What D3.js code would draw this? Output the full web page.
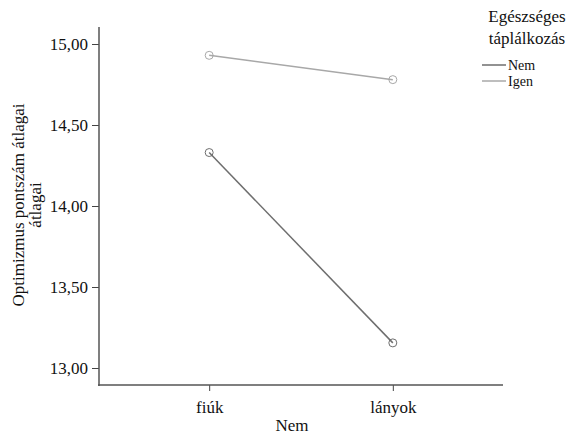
<!DOCTYPE html>
<html><head><meta charset="utf-8">
<script src="https://cdn.jsdelivr.net/npm/d3@7"></script>
</head><body style="margin:0;background:#fff">
<svg id="c" width="578" height="439" font-family="Liberation Serif"></svg>
<script>
const categories = ["fiúk", "lányok"];
const seriesNames = ["Nem", "Igen"];
const nemValues = [14.33, 13.155];
const igenValues = [14.93, 14.78];
const yTicks = [13.0, 13.5, 14.0, 14.5, 15.0];
const colors = ["#6e6e6e", "#a8a8a8"];
const FONT = "Liberation Serif";

const svg = d3.select("#c");
const x = d3.scalePoint().domain(categories).range([99, 503]).padding(0.6);
const y = d3.scaleLinear().domain([13, 15]).range([368, 44]);
const fmt = d => d3.format(".2f")(d).replace(".", ",");

function txt(sel, size) {
  return sel.attr("font-family", FONT).attr("font-size", size).attr("fill", "#111");
}

// axes
const yAxis = svg.append("g").attr("transform", "translate(99,0)")
  .call(d3.axisLeft(y).tickValues(yTicks).tickFormat(fmt).tickSize(7).tickPadding(4));
yAxis.select(".domain").remove();
svg.append("line").attr("x1", 99).attr("x2", 99).attr("y1", 27).attr("y2", 386)
  .attr("stroke", "#555").attr("stroke-width", 1.5);
const xAxis = svg.append("g").attr("transform", "translate(0,385)")
  .call(d3.axisBottom(x).tickSize(6).tickPadding(10));
xAxis.select(".domain").remove();
svg.append("line").attr("x1", 98).attr("x2", 503).attr("y1", 385).attr("y2", 385)
  .attr("stroke", "#555").attr("stroke-width", 1.5);
svg.selectAll("g").attr("font-family", FONT).attr("font-size", 17);
svg.selectAll(".tick line").attr("stroke", "#444");
txt(svg.selectAll(".tick text"), 17);

// axis titles
txt(svg.append("text").attr("x", 292).attr("y", 431).attr("text-anchor", "middle"), 17).text("Nem");
const yt = txt(svg.append("text").attr("transform", "translate(24,205) rotate(-90)")
  .attr("text-anchor", "middle"), 17);
yt.append("tspan").attr("x", 0).attr("dy", 0).text("Optimizmus pontszám átlagai");
yt.append("tspan").attr("x", 0).attr("dy", 17).text("átlagai");

// series
const data = [nemValues, igenValues];
const line = d3.line().x((d, i) => x(categories[i])).y(d => y(d));
data.forEach((vals, s) => {
  svg.append("path").datum(vals).attr("d", line).attr("fill", "none")
    .attr("stroke", colors[s]).attr("stroke-width", 1.5);
  svg.selectAll(null).data(vals).enter().append("circle")
    .attr("cx", (d, i) => x(categories[i])).attr("cy", d => y(d)).attr("r", 4)
    .attr("fill", "none").attr("stroke", colors[s]).attr("stroke-width", 1);
});

// legend
txt(svg.append("text").attr("x", 527).attr("y", 22).attr("text-anchor", "middle"), 17).text("Egészséges");
txt(svg.append("text").attr("x", 527).attr("y", 44).attr("text-anchor", "middle"), 17).text("táplálkozás");
seriesNames.forEach((n, i) => {
  const yy = 65 + i * 16;
  svg.append("line").attr("x1", 482).attr("x2", 506).attr("y1", yy).attr("y2", yy)
    .attr("stroke", colors[i]).attr("stroke-width", 1.5);
  txt(svg.append("text").attr("x", 508).attr("y", yy + 5), 14).text(n);
});
</script>
</body></html>
